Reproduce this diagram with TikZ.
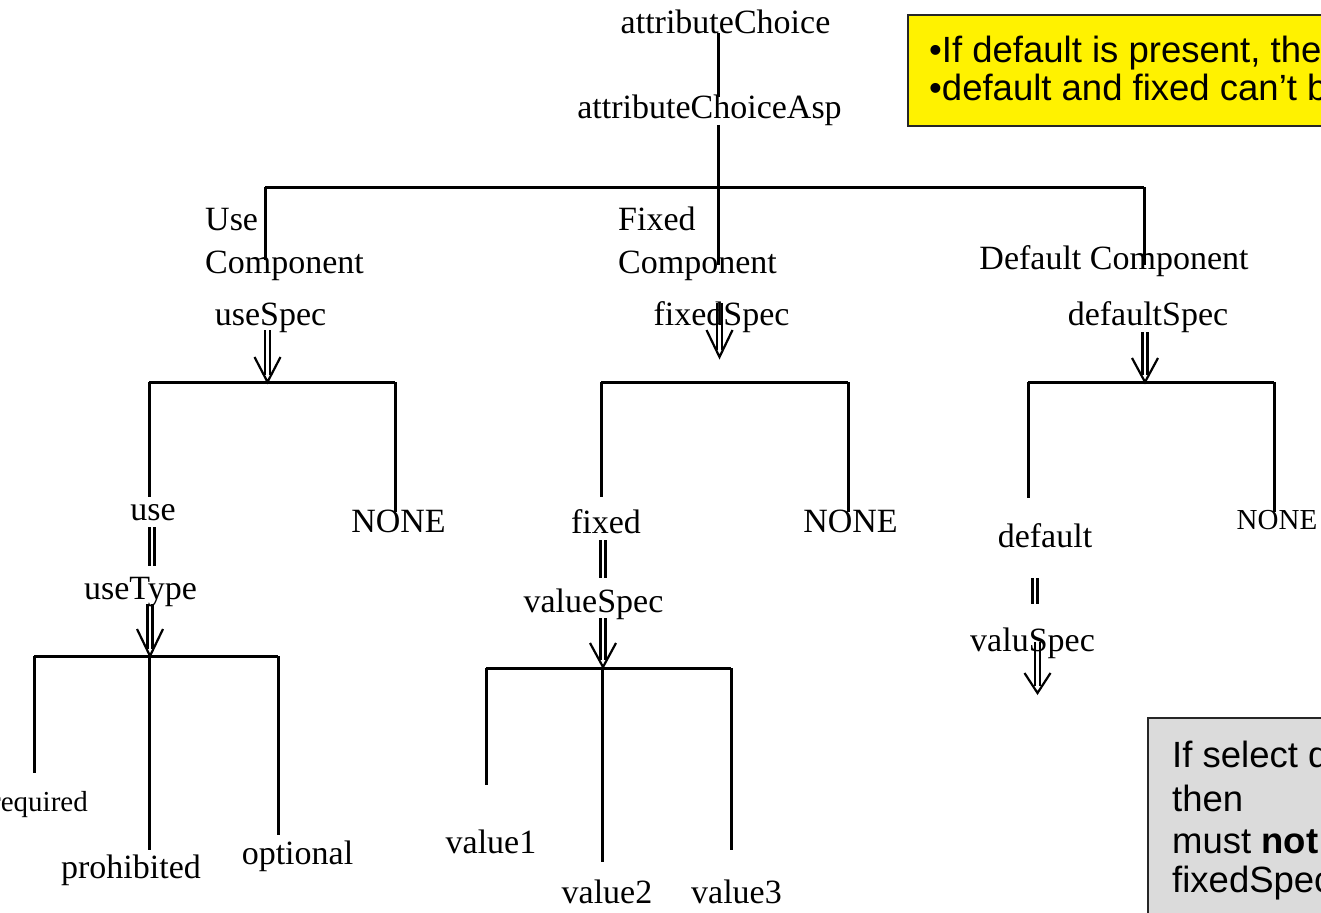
\documentclass[tikz,border=0pt]{standalone}
\usepackage{fontspec}
\setmainfont{Liberation Serif}
\newfontfamily\notefont{Liberation Sans}
\begin{document}
\begin{tikzpicture}[x=1pt,y=-1pt,
  lbl/.style={font=\fontsize{34}{40}\selectfont, inner sep=0pt, anchor=base},
  smalllbl/.style={font=\fontsize{29}{34}\selectfont, inner sep=0pt, anchor=base},
  notetext/.style={font=\notefont\fontsize{36.5}{42}\selectfont, inner sep=0pt, anchor=base west},
  notebox/.style={draw=black!85, line width=1.6pt},
  branch/.style={line width=3pt},
  shaft/.style={line width=2.2pt}]
\useasboundingbox (0,0) rectangle (1321,912);

% twin shaft (x, top, bottom) and twin shaft with open head (x, top, head start, tip)
\newcommand\twinline[3]{\draw[shaft] (#1-2.5,#2) -- (#1-2.5,#3) (#1+2.5,#2) -- (#1+2.5,#3);}
\newcommand\twinarrow[4]{\draw[shaft] (#1-2.5,#2) -- (#1-2.5,#4-7) (#1+2.5,#2) -- (#1+2.5,#4-7);
  \draw[shaft] (#1-13,#3) -- (#1,#4) -- (#1+13,#3);}

% ---- notes ----
\draw[notebox, fill=yellow] (908,15) rectangle (1345,126);
\node[notetext] (note1) at (929,63) {•If default is present, the};
\node[notetext] (note2) at (929,101) {•default and fixed can’t b};

\draw[notebox, fill=black!14] (1148,718) rectangle (1345,935);
\node[notetext] (g1) at (1172,767) {If select d};
\node[notetext] (g2) at (1172,811) {then};
\node[notetext] (g3) at (1172,853) {must \textbf{not}};
\node[notetext] (g4) at (1172,892) {fixedSpec};

% ---- root ----
\node[lbl] (ac)  at (725.5,34) {attributeChoice};
\node[lbl] (aca) at (709.5,119) {attributeChoiceAsp};
\coordinate (root) at (718,187);
\coordinate (rootL) at (265,187);
\coordinate (rootR) at (1144,187);
\draw[branch] (718,33) -- (718,97);
\draw[branch] (718,125) -- (root);
\draw[branch] (rootL) -- (rootR);
\draw[branch] (rootL) -- (265,260);
\draw[branch] (root) -- (718,265);
\draw[branch] (rootR) -- (1144,265);

\node[lbl, anchor=base west] (usec1) at (205,230) {Use};
\node[lbl, anchor=base west] (usec2) at (205,273) {Component};
\node[lbl, anchor=base west] (fixc1) at (618,230) {Fixed};
\node[lbl, anchor=base west] (fixc2) at (618,273) {Component};
\node[lbl] (defc) at (1114,269) {Default Component};

% ---- use branch ----
\node[lbl] (usespec) at (270.5,325) {useSpec};
\twinarrow{267.5}{330}{357}{382}
\coordinate (u1L) at (149,382);
\coordinate (u1R) at (395,382);
\draw[branch] (u1L) -- (u1R);
\draw[branch] (u1L) -- (149,497);
\draw[branch] (u1R) -- (395,512);
\node[lbl] (use) at (153,520) {use};
\node[lbl] (none1) at (398.5,532) {NONE};
\twinline{152}{527}{566}
\node[lbl] (usetype) at (140.5,599) {useType};
\twinarrow{150}{604}{629}{656}
\coordinate (u2L) at (34,656);
\coordinate (u2M) at (149,656);
\coordinate (u2R) at (278,656);
\draw[branch] (u2L) -- (u2R);
\draw[branch] (u2L) -- (34,773);
\draw[branch] (u2M) -- (149,850);
\draw[branch] (u2R) -- (278,835);
\node[smalllbl, anchor=base east] (req) at (88,811) {required};
\node[lbl] (proh) at (131,878) {prohibited};
\node[lbl] (opt) at (297.5,864) {optional};

% ---- fixed branch ----
\node[lbl] (fixedspec) at (721.5,325) {fixedSpec};
\twinarrow{719.5}{303}{330}{357}
\coordinate (f1L) at (601,382);
\coordinate (f1R) at (848,382);
\draw[branch] (f1L) -- (f1R);
\draw[branch] (f1L) -- (601,497);
\draw[branch] (f1R) -- (848,512);
\node[lbl] (fixed) at (606,533) {fixed};
\node[lbl] (none2) at (850.5,532) {NONE};
\twinline{603}{540}{578}
\node[lbl] (valuespec) at (593.5,612) {valueSpec};
\twinarrow{603}{618}{643}{667}
\coordinate (f2L) at (486,668);
\coordinate (f2M) at (602,668);
\coordinate (f2R) at (731,668);
\draw[branch] (f2L) -- (f2R);
\draw[branch] (f2L) -- (486,785);
\draw[branch] (f2M) -- (602,862);
\draw[branch] (f2R) -- (731,850);
\node[lbl] (v1) at (491,853) {value1};
\node[lbl] (v2) at (607,903) {value2};
\node[lbl] (v3) at (736.5,903) {value3};

% ---- default branch ----
\node[lbl] (defaultspec) at (1148,325) {defaultSpec};
\twinarrow{1145}{332}{358}{382}
\coordinate (d1L) at (1028,382);
\coordinate (d1R) at (1274,382);
\draw[branch] (d1L) -- (d1R);
\draw[branch] (d1L) -- (1028,498);
\draw[branch] (d1R) -- (1274,512);
\node[lbl] (default) at (1045,547) {default};
\node[smalllbl] (none3) at (1277,529) {NONE};
\twinline{1035}{578}{604}
\node[lbl] (valuspec) at (1032.5,651) {valuSpec};
\twinarrow{1037.5}{642}{673}{693}
\end{tikzpicture}
\end{document}
